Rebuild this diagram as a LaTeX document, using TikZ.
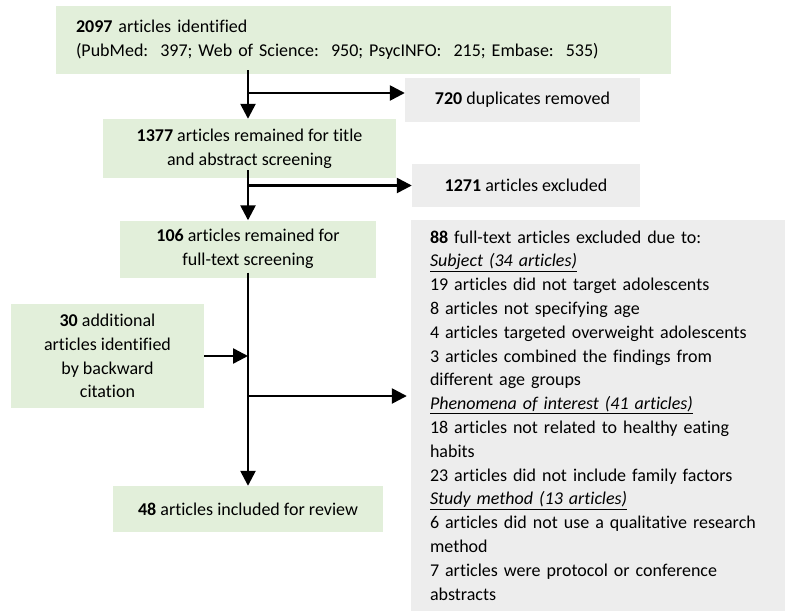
\documentclass[tikz,border=0pt]{standalone}
\usepackage{fontspec}
\setmainfont{Carlito}[Ligatures=NoCommon]
\usepackage{tikz}
\usetikzlibrary{arrows.meta}
\definecolor{boxgreen}{HTML}{E2EFDA}
\definecolor{boxgray}{HTML}{EDEDED}

\begin{document}
\begin{tikzpicture}[x=1pt,y=-1pt,
  txt/.style={font=\fontsize{18}{23.8}\selectfont},
  greenbox/.style={txt,fill=boxgreen,inner sep=0pt,align=center},
  graybox/.style={txt,fill=boxgray,inner sep=0pt,align=center},
  arr/.style={line width=2.5pt,-{Triangle[length=15pt,width=15pt]}}
  ]
  \useasboundingbox (0,0) rectangle (788,611);

  % Main stream
  \node[greenbox,minimum width=615pt,minimum height=68pt,
  	text width=575pt,align=left] (ident) at (363.5,40) %
  	{\textbf{2097} articles identified\\
  	(PubMed:\ \ 397; Web of Science:\ \ 950; PsycINFO:\ \ 215; Embase:\ \ 535)};
  \node[greenbox,minimum width=293pt,minimum height=59pt] (title) at (249.5,148.5) %
  	{\textbf{1377} articles remained for title\\and abstract screening};
  \node[greenbox,minimum width=256pt,minimum height=57pt] (full) at (248,249) %
  	{\textbf{106} articles remained for\\full-text screening};
  \node[greenbox,minimum width=193pt,minimum height=104pt] (extra) at (107.5,356) %
  	{\textbf{30} additional\\articles identified\\by backward\\citation};
  \node[greenbox,minimum width=270pt,minimum height=46pt] (incl) at (248,509) %
  	{\textbf{48} articles included for review};

  % Exclusions
  \node[graybox,minimum width=235pt,minimum height=44pt] (dup) at (522.5,100) %
  	{\textbf{720} duplicates removed};
  \node[graybox,minimum width=228pt,minimum height=43pt] (excl) at (526,185.5) %
  	{\textbf{1271} articles excluded};
  \node[graybox,minimum width=374pt,minimum height=391pt,
  	text width=336pt,align=left] (ftex) at (598,415.5) %
  	{\textbf{88} full-text articles excluded due to:\\
  	\underline{\textit{Subject (34 articles)}}\\
  	19 articles did not target adolescents\\
  	8 articles not specifying age\\
  	\mbox{4 articles targeted overweight adolescents}\\
  	3 articles combined the findings from\\
  	different age groups\\
  	\underline{\textit{Phenomena of interest (41 articles)}}\\
  	18 articles not related to healthy eating\\
  	habits\\
  	\mbox{23 articles did not include family factors}\\
  	\underline{\textit{Study method (13 articles)}}\\
  	\mbox{6 articles did not use a qualitative research}\\
  	method\\
  	7 articles were protocol or conference\\
  	abstracts};

  % Arrows
  \draw[arr] ([yshift=4pt]ident.south -| full.north) -- (full.north |- title.north);
  \draw[arr] ([yshift=7pt]dup.west -| full.north) -- ([yshift=7pt]dup.west);
  \draw[arr] ([yshift=8pt]title.south -| full.north) -- (full.north);
  \draw[arr] (full.north |- excl.west) -- (excl.west);
  \draw[arr] ([yshift=5pt]full.south) -- (incl.north);
  \draw[arr] (extra.east) -- (extra.east -| full.south);
  \draw[arr] ([yshift=19.5pt]ftex.west -| full.south) -- ([yshift=19.5pt,xshift=-4pt]ftex.west);
\end{tikzpicture}
\end{document}
